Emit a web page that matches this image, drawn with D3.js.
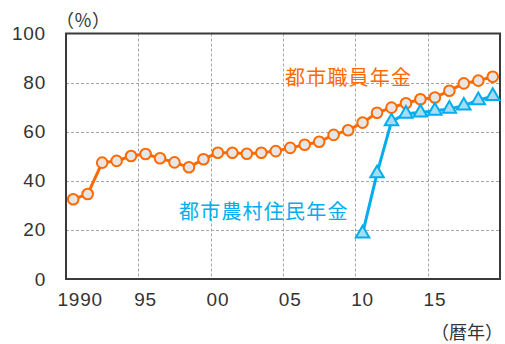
<!DOCTYPE html>
<html>
<head>
<meta charset="utf-8">
<script src="https://cdn.jsdelivr.net/npm/d3@7"></script>
<style>
  html, body { margin: 0; padding: 0; background: #fff; }
  svg { display: block; }
</style>
</head>
<body>
<div id="chart"></div>
<script>
// Pension coverage ratio (%), 1990-2019
const years = d3.range(1990, 2020);
const urbanWorkers = [
  32.5, 34.6, 47.4, 48.1, 50.1, 50.9, 49.2, 47.5, 45.5, 48.8,
  51.4, 51.4, 51.0, 51.4, 52.1, 53.4, 54.7, 55.9, 58.7, 60.6,
  63.7, 67.7, 69.8, 71.6, 73.2, 73.9, 76.7, 79.7, 80.8, 82.4
];
const residentYears = d3.range(2010, 2020);
const urbanRural = [18.5, 43.0, 64.2, 67.3, 67.8, 68.5, 69.3, 70.6, 72.8, 74.5];
const xTickYears = [1990, 1995, 2000, 2005, 2010, 2015];
const xTickLabels = ["1990", "95", "00", "05", "10", "15"];
const gridYears = [1995, 2000, 2005, 2010, 2015];
const yTicks = [0, 20, 40, 60, 80, 100];

const W = 505, H = 344;
const plotL = 66, plotR = 500, plotT = 33.5, plotB = 279;
const orange = "#FF6A00", blue = "#00AEEF";

const svg = d3.select("#chart").append("svg")
  .attr("width", W).attr("height", H);

const x = d3.scaleBand().domain(years).range([plotL, plotR]).padding(0);
const y = d3.scaleLinear().domain([0, 100]).range([plotB, plotT]);
const cx = d => x(d) + x.bandwidth() / 2;

// grid
const grid = svg.append("g")
  .attr("stroke", "#a6a6a6").attr("stroke-width", 1)
  .attr("stroke-dasharray", "3,2");
grid.selectAll("line.h").data(yTicks.filter(v => v > 0 && v < 100)).join("line")
  .attr("class", "h")
  .attr("x1", plotL).attr("x2", plotR)
  .attr("y1", d => Math.round(y(d)) + 0.5).attr("y2", d => Math.round(y(d)) + 0.5);
grid.selectAll("line.v").data(gridYears).join("line")
  .attr("class", "v")
  .attr("x1", d => Math.round(x(d)) + 0.5).attr("x2", d => Math.round(x(d)) + 0.5)
  .attr("y1", plotT).attr("y2", plotB);

// frame
svg.append("rect")
  .attr("x", plotL).attr("y", plotT)
  .attr("width", plotR - plotL).attr("height", plotB - plotT)
  .attr("fill", "none").attr("stroke", "#3a3a3a").attr("stroke-width", 2);

// y axis labels
const yAxis = d3.axisLeft(y).tickValues(yTicks).tickSize(0).tickPadding(20);
const gy = svg.append("g").attr("transform", `translate(${plotL},0)`).call(yAxis);
gy.select(".domain").remove();
gy.selectAll("text")
  .attr("font-family", "Liberation Sans, Arial, sans-serif")
  .attr("font-size", 19).attr("fill", "#333")
  .attr("letter-spacing", 0.8);

// x axis labels
const xAxis = d3.axisBottom(x).tickValues(xTickYears)
  .tickFormat((d, i) => xTickLabels[i]).tickSize(0).tickPadding(14);
const gx = svg.append("g").attr("transform", `translate(0,${plotB})`).call(xAxis);
gx.select(".domain").remove();
gx.selectAll("text")
  .attr("font-family", "Liberation Sans, Arial, sans-serif")
  .attr("font-size", 19).attr("fill", "#333")
  .attr("letter-spacing", 0.8)
  .attr("dx", d => d === 1990 ? 7 : 0);

// unit labels
svg.append("text").attr("x", 56).attr("y", 27)
  .attr("font-family", "Noto Sans CJK JP, sans-serif").attr("font-size", 18)
  .attr("fill", "#333").text("（％）");
svg.append("text").attr("x", 503).attr("y", 339).attr("text-anchor", "end")
  .attr("font-family", "Noto Sans CJK JP, sans-serif").attr("font-size", 18)
  .attr("fill", "#333").text("（暦年）");

// lines
const line = d3.line().x(d => cx(d[0])).y(d => y(d[1]));
const s1 = years.map((yr, i) => [yr, urbanWorkers[i]]);
const s2 = residentYears.map((yr, i) => [yr, urbanRural[i]]);

svg.append("path").datum(s1).attr("d", line)
  .attr("fill", "none").attr("stroke", orange).attr("stroke-width", 3);
svg.append("path").datum(s2).attr("d", line)
  .attr("fill", "none").attr("stroke", blue).attr("stroke-width", 3);

svg.append("g").selectAll("circle").data(s1).join("circle")
  .attr("cx", d => cx(d[0])).attr("cy", d => y(d[1])).attr("r", 5.3)
  .attr("fill", "#e6e6e6").attr("stroke", orange).attr("stroke-width", 2);

const tri = d3.symbol().type(d3.symbolTriangle).size(78);
svg.append("g").selectAll("path").data(s2).join("path")
  .attr("d", tri)
  .attr("transform", d => `translate(${cx(d[0])},${y(d[1])})`)
  .attr("fill", "#a8dcf3").attr("stroke", blue).attr("stroke-width", 2);

// series labels
svg.append("text").attr("x", 285).attr("y", 85)
  .attr("font-family", "Noto Sans CJK JP, sans-serif").attr("font-size", 20)
  .attr("letter-spacing", 1.2).attr("fill", orange).text("都市職員年金");
svg.append("text").attr("x", 179).attr("y", 219)
  .attr("font-family", "Noto Sans CJK JP, sans-serif").attr("font-size", 20)
  .attr("letter-spacing", 1.2).attr("fill", blue).text("都市農村住民年金");
</script>
</body>
</html>
